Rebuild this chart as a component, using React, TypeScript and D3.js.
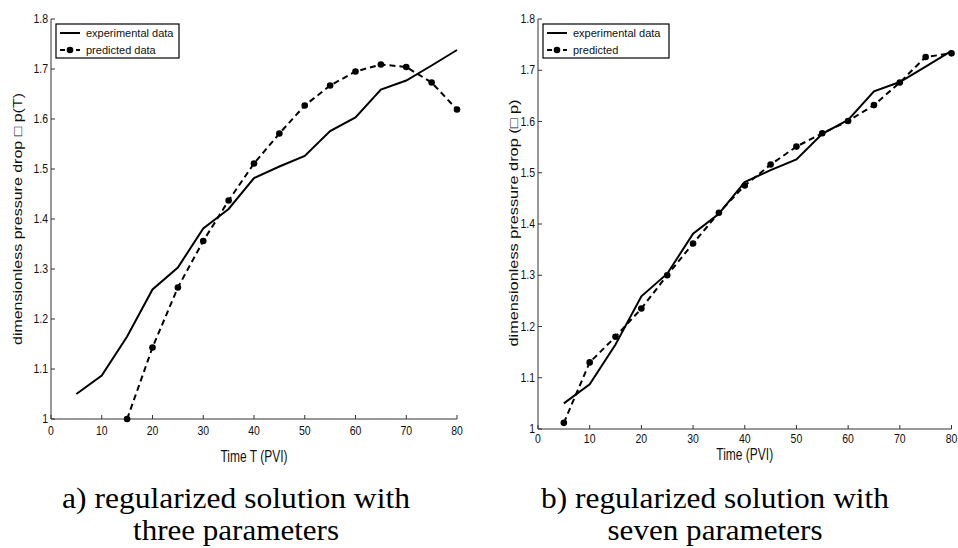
import * as d3 from 'd3';

const timeTicks = [0, 10, 20, 30, 40, 50, 60, 70, 80];
const dropTicks = [1, 1.1, 1.2, 1.3, 1.4, 1.5, 1.6, 1.7, 1.8];
const dropTickLabels = ['1', '1.1', '1.2', '1.3', '1.4', '1.5', '1.6', '1.7', '1.8'];

const experimentalTime = [5, 10, 15, 20, 25, 30, 35, 40, 45, 50, 55, 60, 65, 70, 75, 80];
const experimentalDrop = [1.05, 1.087, 1.165, 1.259, 1.303, 1.381, 1.42, 1.482, 1.505, 1.526, 1.576, 1.603, 1.659, 1.677, 1.707, 1.738];

const predictedTimeA = [15, 20, 25, 30, 35, 40, 45, 50, 55, 60, 65, 70, 75, 80];
const predictedDropA = [1.0, 1.143, 1.263, 1.356, 1.437, 1.511, 1.571, 1.627, 1.667, 1.695, 1.709, 1.704, 1.673, 1.619];

const predictedTimeB = [5, 10, 15, 20, 25, 30, 35, 40, 45, 50, 55, 60, 65, 70, 75, 80];
const predictedDropB = [1.012, 1.13, 1.18, 1.235, 1.3, 1.362, 1.422, 1.475, 1.516, 1.551, 1.577, 1.601, 1.632, 1.676, 1.726, 1.733];

type Pt = { t: number; v: number };

const zip = (ts: number[], vs: number[]): Pt[] => ts.map((t, i) => ({ t, v: vs[i] }));

const tickFont = 'Liberation Sans, Arial, sans-serif';

function Panel({ xRange, yRange, predicted, xLabel, yLabel, yLabelPos, yLabelLen, xLabelY, xTickDy, legendLabels, legendWidth }) {
  const x = d3.scaleLinear().domain([0, 80]).range(xRange);
  const y = d3.scaleLinear().domain([1, 1.8]).range(yRange);
  const line = d3
    .line<Pt>()
    .x((d) => x(d.t))
    .y((d) => y(d.v));
  const exp = zip(experimentalTime, experimentalDrop);
  const x0 = x(0);
  const y0 = y(1);
  const lx = x0 + 5;
  const ly = y(1.8) + 5;
  const axisColor = '#333';

  return (
    <g>
      {/* axes */}
      <line x1={x0} x2={x0} y1={y(1.8)} y2={y0} stroke={axisColor} strokeWidth={1} />
      <line x1={x0} x2={x(80)} y1={y0} y2={y0} stroke={axisColor} strokeWidth={1} />
      {dropTicks.map((t, i) => (
        <g key={t}>
          <line x1={x0} x2={x0 + 4} y1={y(t)} y2={y(t)} stroke={axisColor} />
          <text
            transform={`translate(${x0 - 3},${y(t) + 4}) scale(1,1.2)`}
            textAnchor="end"
            fontSize={10.5}
            fontFamily={tickFont}
            fill="#111"
          >
            {dropTickLabels[i]}
          </text>
        </g>
      ))}
      {timeTicks.map((t) => (
        <g key={t}>
          <line x1={x(t)} x2={x(t)} y1={y0} y2={y0 - 4} stroke={axisColor} />
          <text
            transform={`translate(${x(t)},${y0 + xTickDy}) scale(1,1.3)`}
            textAnchor="middle"
            fontSize={10.5}
            fontFamily={tickFont}
            fill="#111"
          >
            {t}
          </text>
        </g>
      ))}
      <text
        transform={`translate(${(x0 + x(80)) / 2},${xLabelY}) scale(1,1.35)`}
        textAnchor="middle"
        fontSize={12}
        fontFamily={tickFont}
        fill="#111"
      >
        {xLabel}
      </text>
      <text
        transform={`translate(${yLabelPos[0]},${yLabelPos[1]}) rotate(-90)`}
        textAnchor="middle"
        dominantBaseline="central"
        fontSize={13}
        fontFamily={tickFont}
        textLength={yLabelLen}
        lengthAdjust="spacingAndGlyphs"
        fill="#111"
      >
        {yLabel}
      </text>

      {/* series */}
      <path d={line(exp) ?? ''} fill="none" stroke="#000" strokeWidth={2} />
      <path d={line(predicted) ?? ''} fill="none" stroke="#000" strokeWidth={2} strokeDasharray="6 4" />
      {predicted.map((d) => (
        <circle key={d.t} cx={x(d.t)} cy={y(d.v)} r={3.3} fill="#000" />
      ))}

      {/* legend */}
      <rect x={lx} y={ly} width={legendWidth} height={34} fill="#fff" stroke="#000" strokeWidth={1.2} />
      <line x1={lx + 4} x2={lx + 24} y1={ly + 9} y2={ly + 9} stroke="#000" strokeWidth={2} />
      <line x1={lx + 4} x2={lx + 24} y1={ly + 26} y2={ly + 26} stroke="#000" strokeWidth={2} strokeDasharray="5 3" />
      <circle cx={lx + 14} cy={ly + 26} r={3.3} fill="#000" />
      {legendLabels.map((label, i) => (
        <text key={label} x={lx + 30} y={ly + 13 + i * 17} fontSize={11} fontFamily={tickFont} fill="#111">
          {label}
        </text>
      ))}
    </g>
  );
}

export default function App() {
  return (
    <svg width={958} height={548} style={{ position: 'absolute', left: 0, top: 0, background: '#fff' }}>
      <rect width={958} height={548} fill="#fff" />
      <Panel
        xRange={[51, 457]}
        yRange={[419, 19]}
        predicted={zip(predictedTimeA, predictedDropA)}
        xLabel="Time T (PVI)"
        yLabel="dimensionless pressure drop □ p(T)"
        yLabelPos={[17, 219]}
        yLabelLen={252}
        xLabelY={462}
        xTickDy={16}
        legendLabels={['experimental data', 'predicted data']}
        legendWidth={123}
      />
      <Panel
        xRange={[538, 951.5]}
        yRange={[429, 19]}
        predicted={zip(predictedTimeB, predictedDropB)}
        xLabel="Time (PVI)"
        yLabel="dimensionless pressure drop (□ p)"
        yLabelPos={[513, 223]}
        yLabelLen={247}
        xLabelY={460}
        xTickDy={14}
        legendLabels={['experimental data', 'predicted']}
        legendWidth={126}
      />
      <g fontFamily="Liberation Serif, Times New Roman, serif" fontSize={28.5} fill="#000" textAnchor="middle" lengthAdjust="spacingAndGlyphs">
        <text x={236} y={508} textLength={348} lengthAdjust="spacingAndGlyphs">a) regularized solution with</text>
        <text x={236} y={540} textLength={206} lengthAdjust="spacingAndGlyphs">three parameters</text>
        <text x={715} y={508} textLength={348} lengthAdjust="spacingAndGlyphs">b) regularized solution with</text>
        <text x={715} y={540} textLength={215} lengthAdjust="spacingAndGlyphs">seven parameters</text>
      </g>
    </svg>
  );
}
